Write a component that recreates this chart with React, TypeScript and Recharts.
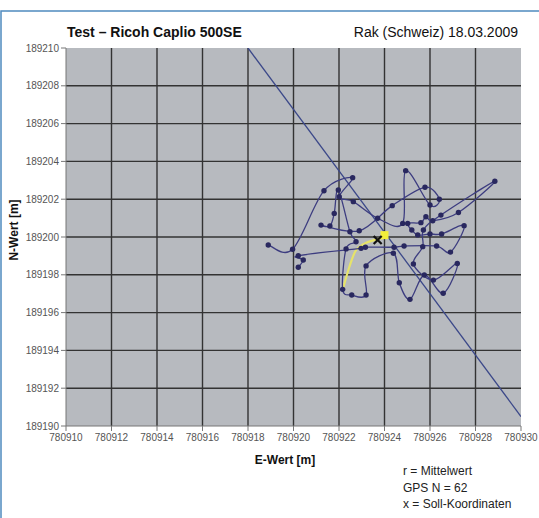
import React from 'react';
import { ComposedChart, Line, Scatter, XAxis, YAxis, CartesianGrid, Customized } from 'recharts';

const X_TICKS = [780910, 780912, 780914, 780916, 780918, 780920, 780922, 780924, 780926, 780928, 780930];
const Y_TICKS = [189190, 189192, 189194, 189196, 189198, 189200, 189202, 189204, 189206, 189208, 189210];

const TITLE = 'Test – Ricoh Caplio 500SE';
const SUBTITLE = 'Rak (Schweiz) 18.03.2009';
const NOTES = ['r = Mittelwert', 'GPS N = 62', 'x = Soll-Koordinaten'];

// GPS track (E, N) in recording order
const TRACK_E = [
  780918.89, 780919.96, 780921.34, 780922.60, 780922.01, 780922.63, 780923.70, 780924.80, 780924.93, 780926.00,
  780926.41, 780925.78, 780924.34, 780922.89, 780921.21, 780921.60, 780921.79, 780921.97, 780922.48, 780922.75,
  780922.31, 780922.16, 780922.56, 780923.19, 780923.19, 780924.39, 780924.65, 780925.12, 780925.75, 780926.58,
  780927.20, 780926.15, 780925.27, 780925.68, 780925.71, 780926.48, 780928.85, 780927.25, 780926.12, 780925.82,
  780925.60, 780925.02, 780925.20, 780925.46, 780926.00, 780926.51, 780927.50, 780926.90, 780926.29, 780924.86,
  780924.42, 780923.16, 780922.97, 780920.21, 780920.43, 780920.21,
];
const TRACK_N = [
  189199.58, 189199.35, 189202.45, 189203.14, 189202.13, 189201.87, 189200.99, 189200.72, 189203.51, 189201.69,
  189202.00, 189202.63, 189201.66, 189200.33, 189200.63, 189200.58, 189201.25, 189202.49, 189200.28, 189199.75,
  189199.37, 189197.23, 189196.93, 189196.93, 189198.47, 189199.14, 189197.58, 189196.70, 189197.99, 189197.02,
  189198.60, 189197.72, 189198.57, 189199.49, 189200.37, 189201.16, 189202.95, 189201.30, 189200.86, 189201.07,
  189200.76, 189200.72, 189200.37, 189200.11, 189200.16, 189200.16, 189200.60, 189199.20, 189199.52, 189199.52,
  189199.46, 189199.46, 189199.40, 189199.01, 189198.78, 189198.40,
];

// straight outlier segment
const OUTLIER_E = [780918.0, 780930.0];
const OUTLIER_N = [189210.0, 189190.5];

// running mean (yellow)
const MEAN_PATH_E = [780922.15, 780922.45, 780922.75, 780923.2, 780924.0];
const MEAN_PATH_N = [189197.15, 189198.4, 189199.3, 189199.7, 189199.98];

const MEAN_E = [780924.0];
const MEAN_N = [189200.1];
const SOLL_E = [780923.7];
const SOLL_N = [189199.84];

const track = TRACK_E.map((x, i) => ({ x, y: TRACK_N[i] }));
const outlier = OUTLIER_E.map((x, i) => ({ x, y: OUTLIER_N[i] }));
const meanPath = MEAN_PATH_E.map((x, i) => ({ x, y: MEAN_PATH_N[i] }));
const mean = MEAN_E.map((x, i) => ({ x, y: MEAN_N[i] }));
const soll = SOLL_E.map((x, i) => ({ x, y: SOLL_N[i] }));

function smoothCurve(context: any) {
  let pts: [number, number][] = [];
  return {
    areaStart() {},
    areaEnd() {},
    lineStart() {
      pts = [];
    },
    lineEnd() {
      if (!pts.length) return;
      context.moveTo(pts[0][0], pts[0][1]);
      const t = 1 / 6;
      for (let i = 0; i < pts.length - 1; i++) {
        const p0 = pts[Math.max(0, i - 1)];
        const p1 = pts[i];
        const p2 = pts[i + 1];
        const p3 = pts[Math.min(pts.length - 1, i + 2)];
        context.bezierCurveTo(
          p1[0] + (p2[0] - p0[0]) * t,
          p1[1] + (p2[1] - p0[1]) * t,
          p2[0] - (p3[0] - p1[0]) * t,
          p2[1] - (p3[1] - p1[1]) * t,
          p2[0],
          p2[1]
        );
      }
    },
    point(x: number, y: number) {
      pts.push([+x, +y]);
    },
  };
}

const XShape = (props: any) => {
  const { cx, cy } = props;
  const s = 4;
  return (
    <g stroke="#111" strokeWidth={2.2}>
      <line x1={cx - s} y1={cy - s} x2={cx + s} y2={cy + s} />
      <line x1={cx - s} y1={cy + s} x2={cx + s} y2={cy - s} />
    </g>
  );
};

const SquareShape = (props: any) => {
  const { cx, cy } = props;
  return <rect x={cx - 4} y={cy - 4} width={8} height={8} fill="#f2ee3a" />;
};

const innerLines = (start: number, size: number) => {
  const out: number[] = [];
  for (let i = 1; i < 10; i++) out.push(start + (i * size) / 10);
  return out;
};

const Frame = () => (
  <g>
    <rect x={1} y={11} width={560} height={540} fill="none" stroke="#4f8bbf" strokeWidth={1.5} />
    <text x={67} y={37} fontSize={14} fontWeight="bold" fill="#111" fontFamily="Liberation Sans, Arial, sans-serif">
      {TITLE}
    </text>
    <text x={518} y={37} fontSize={14} textAnchor="end" fill="#111" fontFamily="Liberation Sans, Arial, sans-serif">
      {SUBTITLE}
    </text>
    <text
      x={18}
      y={230}
      fontSize={12}
      fontWeight="bold"
      textAnchor="middle"
      fill="#111"
      transform="rotate(-90 18 230)"
      fontFamily="Liberation Sans, Arial, sans-serif"
    >
      N-Wert [m]
    </text>
    <text x={285} y={464} fontSize={12} fontWeight="bold" textAnchor="middle" fill="#111" fontFamily="Liberation Sans, Arial, sans-serif">
      E-Wert [m]
    </text>
    {NOTES.map((n, i) => (
      <text key={n} x={403} y={475 + i * 16.5} fontSize={12} fill="#222" fontFamily="Liberation Sans, Arial, sans-serif">
        {n}
      </text>
    ))}
  </g>
);

export default function App() {
  return (
    <div style={{ position: 'fixed', left: 0, top: 0, background: '#fff' }}>
      <ComposedChart width={539} height={518} margin={{ top: 48, right: 18, left: 0, bottom: 0 }}>
        <CartesianGrid
          stroke="#333"
          strokeWidth={1.4}
          fill="#b7babf"
          fillOpacity={1}
          horizontalCoordinatesGenerator={({ offset }: any) => innerLines(offset.top, offset.height)}
          verticalCoordinatesGenerator={({ offset }: any) => innerLines(offset.left, offset.width)}
        />
        <XAxis
          type="number"
          dataKey="x"
          domain={[780910, 780930]}
          ticks={X_TICKS}
          allowDataOverflow
          height={92}
          tickSize={5}
          tickMargin={3}
          stroke="#777"
          tick={{ fontSize: 10, fill: '#555', fontFamily: 'Liberation Sans, Arial, sans-serif' }}
        />
        <YAxis
          type="number"
          dataKey="y"
          domain={[189190, 189210]}
          ticks={Y_TICKS}
          allowDataOverflow
          width={66}
          tickSize={5}
          tickMargin={2}
          stroke="#777"
          tick={{ fontSize: 10, fill: '#555', fontFamily: 'Liberation Sans, Arial, sans-serif' }}
        />
        <Line data={outlier} dataKey="y" type="linear" stroke="#3b4889" strokeWidth={1.3} dot={false} isAnimationActive={false} />
        <Line data={meanPath} dataKey="y" type={smoothCurve as any} stroke="#e6e36a" strokeWidth={2.2} dot={false} isAnimationActive={false} />
        <Line
          data={track}
          dataKey="y"
          type={smoothCurve as any}
          stroke="#3d3d80"
          strokeWidth={1.3}
          dot={{ r: 2.7, fill: '#29285f', stroke: 'none' }}
          isAnimationActive={false}
        />
        <Scatter data={mean} dataKey="y" shape={SquareShape} isAnimationActive={false} />
        <Scatter data={soll} dataKey="y" shape={XShape} isAnimationActive={false} />
        <Customized component={Frame} />
      </ComposedChart>
    </div>
  );
}
